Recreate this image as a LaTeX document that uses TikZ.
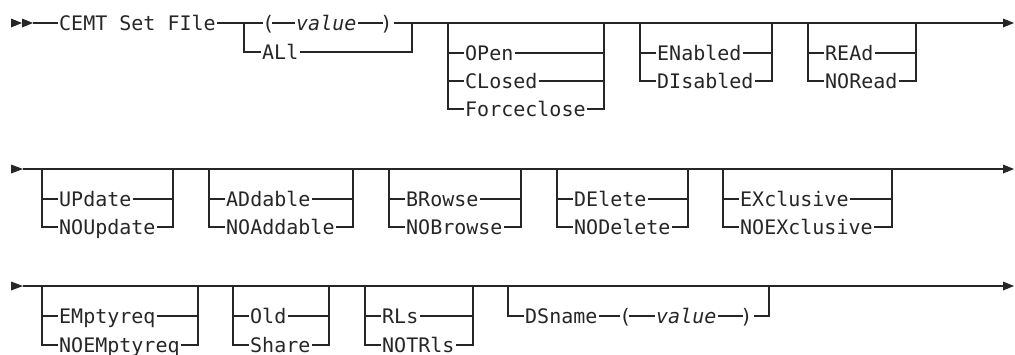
\documentclass[tikz,border=0pt]{standalone}
\usepackage{fontspec}
\newfontfamily\rrfont{DejaVu Sans Mono}
\definecolor{ink}{HTML}{262626}
\newcommand\twogrp[8]{%
  \coordinate (#1L) at (#2,#4);
  \coordinate (#1R) at (#3,#4);
  \node[lbl] (#1a) at (#2+16,#5) {#7};
  \node[lbl] (#1b) at (#2+16,#6) {#8};
  \draw[ln] (#1L) |- (#1b.west);
  \draw[ln] (#1L |- #1a) -- (#1a.west);
  \draw[ln] (#1R) |- (#1b.east);
  \draw[ln] (#1a.east) -- (#1R |- #1a);
}
\begin{document}
\begin{tikzpicture}[x=1pt,y=-1pt,
  ln/.style={line width=1.2pt, draw=ink},
  lbl/.style={font=\rrfont\fontsize{20}{24}\selectfont, text=ink, inner xsep=1pt, inner ysep=0pt, text height=14.6pt, text depth=0pt, anchor=west},
  par/.style={lbl, anchor=center, inner xsep=-2.5pt},
  tip/.style={fill=ink, draw=none}]
\useasboundingbox (0,0) rectangle (1015,354);

% ---------- Row 1 ----------
\fill[tip] (11,18.5) -- (22,23) -- (11,27.5) -- cycle;
\fill[tip] (22,18.5) -- (33,23) -- (22,27.5) -- cycle;
\coordinate (s1) at (33,23);
\node[lbl] (cemt) at (58,23) {CEMT Set FIle};
\coordinate (a1) at (244,23);
\coordinate (b1) at (412,23);
\node[par] (p1o) at (268.5,23) {(};
\node[lbl] (v1) at (295,23) {\itshape value};
\node[par] (p1c) at (386.5,23) {)};
\node[lbl] (all) at (261,52) {ALl};
\draw[ln] (s1) -- (cemt.west);
\draw[ln] (cemt.east) -- (a1) -- ([xshift=-2pt]p1o.west);
\draw[ln] (p1o.east) -- (v1.west);
\draw[ln] (v1.east) -- (p1c.west);
\draw[ln] ([xshift=4pt]p1c.east) -- (b1);
\draw[ln] (a1) |- (all.west);
\draw[ln] (all.east) -| (b1);
\coordinate (e1) at (1003,23);
\draw[ln] (b1) -- (e1);
\fill[tip] (1003,18.5) -- (1014,23) -- (1003,27.5) -- cycle;

% group OPen / CLosed / Forceclose
\coordinate (a2) at (448,23);
\coordinate (b2) at (604,23);
\node[lbl] (open) at (464,53) {OPen};
\node[lbl] (closed) at (464,81) {CLosed};
\node[lbl] (force) at (464,109) {Forceclose};
\draw[ln] (a2) |- (force.west);
\draw[ln] (a2 |- open) -- (open.west);
\draw[ln] (a2 |- closed) -- (closed.west);
\draw[ln] (b2) |- (force.east);
\draw[ln] (open.east) -- (b2 |- open);
\draw[ln] (closed.east) -- (b2 |- closed);

\twogrp{en}{640}{772}{23}{53}{81}{ENabled}{DIsabled}
\twogrp{rd}{808}{916}{23}{53}{81}{REAd}{NORead}

% ---------- Row 2 ----------
\fill[tip] (11,164.5) -- (23,169) -- (11,173.5) -- cycle;
\coordinate (s2) at (23,169);
\coordinate (e2) at (1003,169);
\draw[ln] (s2) -- (e2);
\fill[tip] (1003,164.5) -- (1014,169) -- (1003,173.5) -- cycle;
\twogrp{up}{42}{173}{169}{199}{227}{UPdate}{NOUpdate}
\twogrp{ad}{209}{353}{169}{199}{227}{ADdable}{NOAddable}
\twogrp{br}{389}{521}{169}{199}{227}{BRowse}{NOBrowse}
\twogrp{de}{557}{688}{169}{199}{227}{DElete}{NODelete}
\twogrp{ex}{723}{892}{169}{199}{227}{EXclusive}{NOEXclusive}

% ---------- Row 3 ----------
\fill[tip] (11,281.5) -- (23,286) -- (11,290.5) -- cycle;
\coordinate (s3) at (23,286);
\coordinate (e3) at (1003,286);
\draw[ln] (s3) -- (e3);
\fill[tip] (1003,281.5) -- (1014,286) -- (1003,290.5) -- cycle;
\twogrp{em}{42}{198}{286}{316}{345}{EMptyreq}{NOEMptyreq}
\twogrp{ol}{233}{329}{286}{316}{345}{Old}{Share}
\twogrp{rl}{365}{473}{286}{316}{345}{RLs}{NOTRls}

% DSname group
\coordinate (dL) at (508,286);
\coordinate (dR) at (769,286);
\node[lbl] (ds) at (524,316) {DSname};
\node[par] (p2o) at (625.5,316) {(};
\node[lbl] (v2) at (655,316) {\itshape value};
\node[par] (p2c) at (746.5,316) {)};
\draw[ln] (dL) |- (ds.west);
\draw[ln] (ds.east) -- ([xshift=-2pt]p2o.west);
\draw[ln] (p2o.east) -- (v2.west);
\draw[ln] (v2.east) -- (p2c.west);
\draw[ln] ([xshift=4pt]p2c.east) -| (dR);
\end{tikzpicture}
\end{document}
